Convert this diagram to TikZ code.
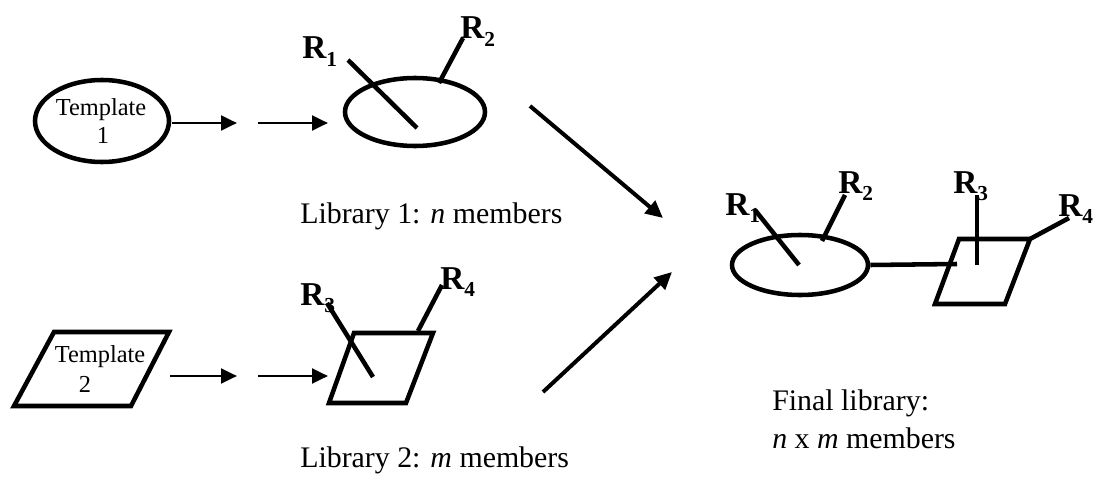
\documentclass[tikz,border=0pt]{standalone}
\usepackage{fontspec}
\setmainfont{Liberation Serif}
\usetikzlibrary{shapes.geometric,arrows.meta}
\newcommand{\Rlab}[1]{\textbf{R\raisebox{-0.22em}{\fontsize{16}{16}\selectfont #1}}}
\begin{document}
\begin{tikzpicture}[x=0.75pt,y=-0.75pt,
 shp/.style={line width=3.4pt},
 ell/.style={draw, ellipse, line width=3.4pt, inner sep=0pt},
 arr/.style={line width=2.2pt, -{Triangle[length=12pt,width=11pt]}},
 bigarr/.style={line width=3pt, -{Triangle[length=13pt,width=12pt]}},
 rlab/.style={font=\fontsize{25}{30}\selectfont, anchor=base west, inner sep=0pt},
 lib/.style={font=\fontsize{22.4}{27}\selectfont, anchor=base west, inner sep=0pt},
 tmpl/.style={font=\fontsize{18.3}{22}\selectfont, anchor=base, inner sep=0pt},
]
\useasboundingbox (0,0) rectangle (1097,485);

% ---- Template 1 and Library 1
\node[ell, minimum width=100.5pt, minimum height=61.5pt] (t1) at (102,121) {};
\node[tmpl] (t1a) at (101,116) {Template};
\node[tmpl] (t1b) at (103,143) {1};
\coordinate (a1s) at (172,123);
\coordinate (a1e) at (237,123);
\coordinate (a2s) at (258,123);
\coordinate (a2e) at (328,123);
\draw[arr] (a1s) -- (a1e);
\draw[arr] (a2s) -- (a2e);

\node[ell, minimum width=105pt, minimum height=51pt] (l1) at (415,112) {};
\coordinate (l1r1a) at (348,60);
\coordinate (l1r1b) at (417,128);
\coordinate (l1r2a) at (439,83);
\coordinate (l1r2b) at (463,38);
\draw[shp] (l1r1a) -- (l1r1b);
\draw[shp] (l1r2a) -- (l1r2b);
\node[rlab] (l1R1) at (302,59) {\Rlab{1}};
\node[rlab] (l1R2) at (460,39) {\Rlab{2}};
\node[lib] (lib1) at (300,223) {Library 1: \textit{n} members};

% ---- Template 2 and Library 2
\coordinate (t2a) at (54,332);
\coordinate (t2b) at (169,332);
\coordinate (t2c) at (131,406);
\coordinate (t2d) at (14,406);
\draw[shp] (t2a) -- (t2b) -- (t2c) -- (t2d) -- cycle;
\node[tmpl] (t2x) at (100,362) {Template};
\node[tmpl] (t2y) at (85,392) {2};
\coordinate (b1s) at (170,376);
\coordinate (b1e) at (237,376);
\coordinate (b2s) at (258,376);
\coordinate (b2e) at (328,376);
\draw[arr] (b1s) -- (b1e);
\draw[arr] (b2s) -- (b2e);

\coordinate (l2a) at (354,333);
\coordinate (l2b) at (433,333);
\coordinate (l2c) at (406,403);
\coordinate (l2d) at (329,403);
\draw[shp] (l2a) -- (l2b) -- (l2c) -- (l2d) -- cycle;
\coordinate (l2r3a) at (327,303);
\coordinate (l2r3b) at (373,377);
\coordinate (l2r4a) at (418,331);
\coordinate (l2r4b) at (442,285);
\draw[shp] (l2r3a) -- (l2r3b);
\draw[shp] (l2r4a) -- (l2r4b);
\node[rlab] (l2R3) at (300,305) {\Rlab{3}};
\node[rlab] (l2R4) at (440,289) {\Rlab{4}};
\node[lib] (lib2) at (300,467) {Library 2: \textit{m} members};

% ---- big arrows
\coordinate (c1s) at (530,106);
\coordinate (c1e) at (663,218);
\coordinate (c2s) at (543,392);
\coordinate (c2e) at (672,272);
\draw[bigarr] (c1s) -- (c1e);
\draw[bigarr] (c2s) -- (c2e);

% ---- Final library
\node[ell, minimum width=102pt, minimum height=45pt] (fe) at (800,265) {};
\coordinate (fa) at (959,239);
\coordinate (fb) at (1030,239);
\coordinate (fc) at (1005,304);
\coordinate (fd) at (935,304);
\draw[shp] (fa) -- (fb) -- (fc) -- (fd) -- cycle;
\coordinate (fjoin) at (957,264);
\draw[shp] (fe.east) -- (fjoin);
\coordinate (fr1a) at (755,210);
\coordinate (fr1b) at (799,265);
\coordinate (fr2a) at (822,241);
\coordinate (fr2b) at (845,195);
\coordinate (fr3a) at (977,195);
\coordinate (fr3b) at (977,265);
\coordinate (fr4b) at (1069,218);
\draw[shp] (fr1a) -- (fr1b);
\draw[shp] (fr2a) -- (fr2b);
\draw[shp] (fr3a) -- (fr3b);
\draw[shp] (fb) -- (fr4b);
\node[rlab] (fR1) at (725,215) {\Rlab{1}};
\node[rlab] (fR2) at (838,193) {\Rlab{2}};
\node[rlab] (fR3) at (953,193) {\Rlab{3}};
\node[rlab] (fR4) at (1058,216) {\Rlab{4}};
\node[lib] (fin1) at (772,410) {Final library:};
\node[lib] (fin2) at (772,448) {\textit{n} x \textit{m} members};
\end{tikzpicture}
\end{document}
